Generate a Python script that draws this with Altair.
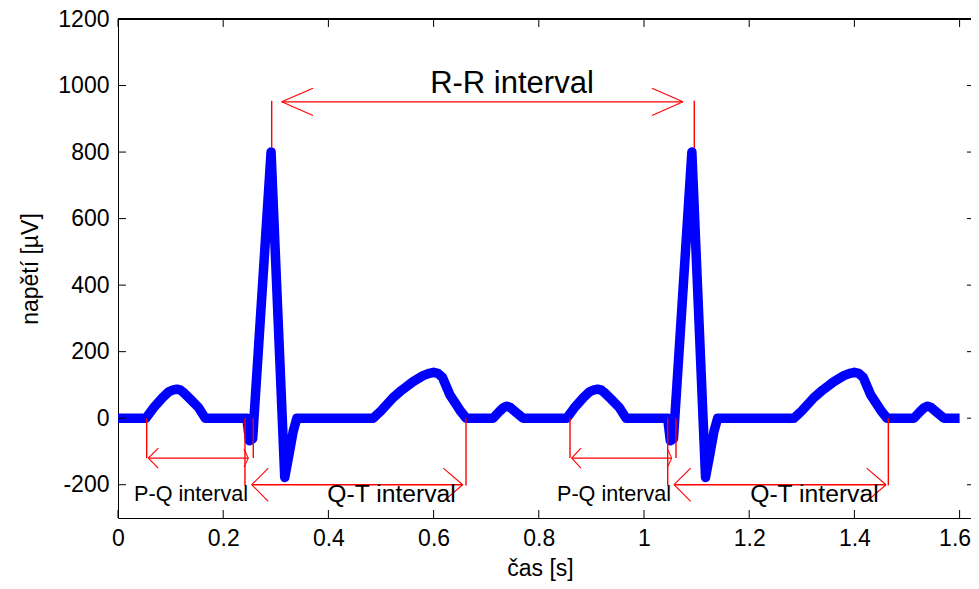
import altair as alt
import pandas as pd

# ---- ECG trace (time [s], voltage [uV]) ----
t = [0.000, 0.053, 0.067, 0.086, 0.097, 0.105, 0.112, 0.118, 0.124, 0.137, 0.153, 0.166,
     0.245, 0.250, 0.256, 0.291, 0.317, 0.325, 0.333, 0.340,
     0.485, 0.500, 0.523, 0.540, 0.561, 0.580, 0.592, 0.600, 0.608, 0.617, 0.631, 0.650, 0.662,
     0.713, 0.725, 0.733, 0.739, 0.746, 0.755, 0.770,
     0.853, 0.867, 0.886, 0.897, 0.905, 0.912, 0.918, 0.924, 0.937, 0.953, 0.966,
     1.045, 1.050, 1.056, 1.091, 1.117, 1.125, 1.133, 1.140,
     1.285, 1.300, 1.323, 1.340, 1.361, 1.380, 1.392, 1.400, 1.408, 1.417, 1.431, 1.450, 1.462,
     1.513, 1.525, 1.533, 1.539, 1.546, 1.555, 1.570, 1.600]
v = [0, 0, 30, 64, 80, 85, 87, 85, 78, 58, 32, 0,
     0, -68, -62, 800, -178, -110, -40, 0,
     0, 22, 62, 85, 110, 128, 135, 138, 135, 122, 70, 24, 0,
     0, 20, 32, 36, 32, 20, 0,
     0, 30, 64, 80, 85, 87, 85, 78, 58, 32, 0,
     0, -68, -62, 800, -178, -110, -40, 0,
     0, 22, 62, 85, 110, 128, 135, 138, 135, 122, 70, 24, 0,
     0, 20, 32, 36, 32, 20, 0, 0]

x_ticks = [0, 0.2, 0.4, 0.6, 0.8, 1, 1.2, 1.4, 1.6]
y_ticks = [-200, 0, 200, 400, 600, 800, 1000, 1200]

# ---- annotation shafts / verticals ----
sh_x  = [0.2922, 1.0956, 0.3112, 0.0545, 0.0576, 0.2414, 0.2572, 0.2542, 0.6616,
         0.8593, 0.8625, 1.0451, 1.0608, 1.0570, 1.4645]
sh_y  = [954, 954, 951, 0, -120, 0, 0, -200, 0,
         0, -120, 0, 0, -200, 0]
sh_x2 = [0.2922, 1.0956, 1.0741, 0.0545, 0.2477, 0.2414, 0.2572, 0.6553, 0.6616,
         0.8593, 1.0527, 1.0451, 1.0608, 1.4601, 1.4645]
sh_y2 = [812, 812, 951, -120, -120, -202, -120, -200, -202,
         -120, -120, -202, -120, -200, -202]

# ---- arrow head barbs ----
bb_x  = [0.3112, 0.3112, 1.0741, 1.0741,
         0.0576, 0.0576, 0.2477, 0.2477,
         0.2542, 0.2542, 0.6553, 0.6553,
         0.8625, 0.8625, 1.0527, 1.0527,
         1.0570, 1.0570, 1.4601, 1.4601]
bb_y  = [951, 951, 951, 951,
         -120, -120, -120, -120,
         -200, -200, -200, -200,
         -120, -120, -120, -120,
         -200, -200, -200, -200]
bb_x2 = [0.3707, 0.3707, 1.0152, 1.0152,
         0.0766, 0.0766, 0.2395, 0.2395,
         0.2857, 0.2857, 0.6184, 0.6184,
         0.8802, 0.8802, 1.0447, 1.0447,
         1.0888, 1.0888, 1.4234, 1.4234]
bb_y2 = [992, 910, 992, 910,
         -90, -150, -93, -147,
         -150, -250, -150, -250,
         -90, -150, -93, -147,
         -150, -250, -150, -250]

# ---- text labels ----
rr_text, rr_x, rr_y = ["R-R interval"], [0.749], [1005]
pq_text, pq_x, pq_y = ["P-Q interval", "P-Q interval"], [0.139, 0.943], [-231, -231]
qt_text, qt_x, qt_y = ["Q-T interval", "Q-T interval"], [0.520, 1.324], [-232, -232]

W, H = 853, 499
FONT = "Liberation Sans"
xs = alt.Scale(domain=[0, 853 / 526], nice=False, zero=False)
ys = alt.Scale(domain=[-300, 1200], nice=False, zero=False)

ecg = pd.DataFrame({"t": t, "v": v})
line = alt.Chart(ecg).mark_line(color="#0000ff", strokeWidth=9.5, strokeJoin="round",
                                strokeCap="butt").encode(
    x=alt.X("t:Q", scale=xs, axis=alt.Axis(
        title="čas [s]", values=x_ticks, labelExpr="'' + datum.value",
        grid=False, ticks=False, tickSize=0, labelPadding=9, labelFlush=False,
        labelOverlap=False, labelBound=False,
        labelOffset={"condition": {"test": "datum.value >= 1.59", "value": -5}, "value": 0},
        domainColor="black", domainWidth=1, labelColor="black", labelFontSize=23,
        labelFont=FONT, titleFont=FONT, titleFontSize=23, titleFontWeight="normal",
        titleColor="black", titleX=422, titleY=50, titleAlign="center",
        titleBaseline="middle")),
    y=alt.Y("v:Q", scale=ys, axis=alt.Axis(
        title="napětí [µV]", values=y_ticks, labelExpr="'' + datum.value",
        grid=False, ticks=False, tickSize=0, labelPadding=9, labelFlush=False,
        labelOverlap=False,
        domainColor="black", domainWidth=1, labelColor="black", labelFontSize=23,
        labelFont=FONT, titleFont=FONT, titleFontSize=23, titleFontWeight="normal",
        titleColor="black", titleX=-88, titleY=H / 2, titleAngle=270,
        titleAlign="center", titleBaseline="middle")),
)

shafts = alt.Chart(pd.DataFrame({"x": sh_x, "y": sh_y, "x2": sh_x2, "y2": sh_y2})).mark_rule(
    color="#ff0000", strokeWidth=1.4).encode(
    x=alt.X("x:Q", scale=xs), y=alt.Y("y:Q", scale=ys), x2="x2:Q", y2="y2:Q")

barbs = alt.Chart(pd.DataFrame({"x": bb_x, "y": bb_y, "x2": bb_x2, "y2": bb_y2})).mark_rule(
    color="#ff0000", strokeWidth=1.1).encode(
    x=alt.X("x:Q", scale=xs), y=alt.Y("y:Q", scale=ys), x2="x2:Q", y2="y2:Q")

def txt(labels, xv, yv, size):
    return alt.Chart(pd.DataFrame({"label": labels, "x": xv, "y": yv})).mark_text(
        font=FONT, fontSize=size, color="black", align="center", baseline="middle").encode(
        x=alt.X("x:Q", scale=xs), y=alt.Y("y:Q", scale=ys), text="label:N")

rr = txt(rr_text, rr_x, rr_y, 31)
pq = txt(pq_text, pq_x, pq_y, 21.6)
qt = txt(qt_text, qt_x, qt_y, 24.7)

TL = 8
xt = pd.DataFrame({"x": x_ticks})
yt = pd.DataFrame({"y": y_ticks})
bottom_ticks = alt.Chart(xt).mark_rule(color="black", strokeWidth=1).encode(
    x=alt.X("x:Q", scale=xs), y=alt.value(H), y2=alt.value(H - TL))
top_ticks = alt.Chart(xt).mark_rule(color="black", strokeWidth=1).encode(
    x=alt.X("x:Q", scale=xs), y=alt.value(0), y2=alt.value(TL))
left_ticks = alt.Chart(yt).mark_rule(color="black", strokeWidth=1).encode(
    y=alt.Y("y:Q", scale=ys), x=alt.value(0), x2=alt.value(TL))
right_ticks = alt.Chart(yt).mark_rule(color="black", strokeWidth=1).encode(
    y=alt.Y("y:Q", scale=ys), x=alt.value(W - 4), x2=alt.value(W))
top_border = alt.Chart(xt).mark_rule(color="black", strokeWidth=1).encode(
    x=alt.value(0), x2=alt.value(W), y=alt.value(0))

chart = alt.layer(
    line, shafts, barbs, rr, pq, qt,
    bottom_ticks, top_ticks, left_ticks, right_ticks, top_border
).properties(
    width=W, height=H,
    autosize=alt.AutoSizeParams(type="none"),
    padding={"left": 110, "top": 11, "right": 0, "bottom": 63},
    background="white",
).configure_view(stroke=None)

chart.save("out.html", embed_options={"renderer": "svg", "actions": False})
